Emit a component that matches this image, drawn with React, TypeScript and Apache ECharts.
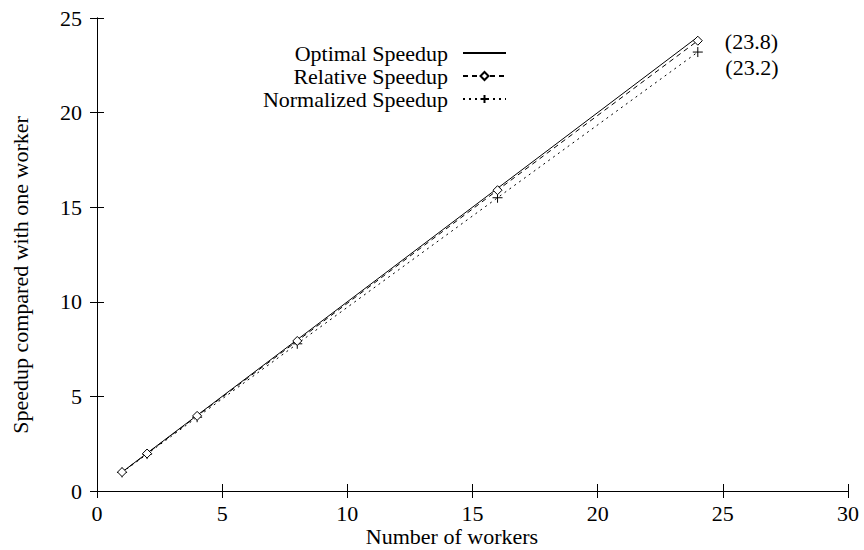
import React, { useEffect, useRef } from "react";
import * as echarts from "echarts";

const workers = [1, 2, 4, 8, 16, 24];
const optimal = [1, 2, 4, 8, 16, 24];
const relative = [1, 1.98, 3.97, 7.93, 15.9, 23.8];
const normalized = [0.98, 1.95, 3.9, 7.78, 15.5, 23.2];
const xTicks = [0, 5, 10, 15, 20, 25, 30];
const yTicks = [0, 5, 10, 15, 20, 25];
const seriesNames = ["Optimal Speedup", "Relative Speedup", "Normalized Speedup"];
const xTitle = "Number of workers";
const yTitle = "Speedup compared with one worker";

const FONT = "Liberation Serif";
const FS = 22;

function pairs(ys: number[], labelLast: boolean, offsetY: number) {
  return workers.map((x, i) => {
    const item: any = { value: [x, ys[i]] };
    if (labelLast && i === workers.length - 1) {
      item.label = {
        show: true,
        position: "right",
        distance: 22,
        offset: [0, offsetY],
        formatter: `(${ys[i]})`,
        color: "#000",
        fontFamily: FONT,
        fontSize: FS,
        lineHeight: 19,
      };
    }
    return item;
  });
}

export default function App() {
  const ref = useRef<HTMLDivElement>(null);
  useEffect(() => {
    if (!ref.current) return;
    const chart = echarts.init(ref.current, undefined, { renderer: "svg" });
    const axisCommon = {
      type: "value",
      min: 0,
      interval: 5,
      axisLine: { show: true, lineStyle: { color: "#000", width: 1 } },
      axisTick: { show: true, inside: true, length: 7, lineStyle: { color: "#000", width: 1 } },
      splitLine: { show: false },
    };
    const labelStyle = { color: "#000", fontFamily: FONT, fontSize: FS };
    chart.setOption({
      animation: false,
      backgroundColor: "#fff",
      textStyle: { fontFamily: FONT },
      grid: { left: 97, right: 16, top: 18, bottom: 59 },
      legend: {
        orient: "vertical",
        align: "right",
        right: 352,
        top: 37,
        itemWidth: 43,
        itemHeight: 10,
        itemGap: 1,
        data: [
          { name: seriesNames[0], itemStyle: { opacity: 0 } },
          { name: seriesNames[1] },
          { name: seriesNames[2] },
        ],
        textStyle: { ...labelStyle, lineHeight: 20, padding: [0, 10, 0, 0] },
        inactiveColor: "#000",
      },
      xAxis: [
        {
          ...axisCommon,
          max: xTicks[xTicks.length - 1],
          position: "bottom",
          axisLabel: { ...labelStyle, margin: 11, formatter: (v: number) => (xTicks.includes(v) ? String(v) : "") },
        },
        {
          ...axisCommon,
          max: xTicks[xTicks.length - 1],
          position: "top",
          axisLabel: { show: false },
        },
      ],
      yAxis: [
        {
          ...axisCommon,
          max: yTicks[yTicks.length - 1],
          position: "left",
          axisLabel: { ...labelStyle, margin: 15, formatter: (v: number) => (yTicks.includes(v) ? String(v) : "") },
        },
        {
          ...axisCommon,
          max: yTicks[yTicks.length - 1],
          position: "right",
          axisLabel: { show: false },
        },
      ],
      graphic: [
        {
          type: "text",
          x: 452,
          y: 536,
          style: { text: xTitle, fill: "#000", fontFamily: FONT, fontSize: FS, textAlign: "center", textVerticalAlign: "middle" },
        },
        {
          type: "text",
          x: 20,
          y: 275,
          rotation: Math.PI / 2,
          style: { text: yTitle, fill: "#000", fontFamily: FONT, fontSize: FS, textAlign: "center", textVerticalAlign: "middle" },
        },
      ],
      series: [
        {
          name: seriesNames[0],
          type: "line",
          data: pairs(optimal, false, 0),
          symbol: "none",
          showSymbol: false,
          itemStyle: { color: "#000" },
          lineStyle: { color: "#000", width: 1, type: "solid" },
          z: 3,
        },
        {
          name: seriesNames[1],
          type: "line",
          data: pairs(relative, true, 1),
          symbol: "diamond",
          symbolSize: 9,
          itemStyle: { color: "#fff", borderColor: "#000", borderWidth: 1 },
          lineStyle: { color: "#000", width: 1, type: [5, 4] },
          z: 4,
        },
        {
          name: seriesNames[2],
          type: "line",
          data: pairs(normalized, true, 15),
          symbol: "path://M5 0 L5 10 M0 5 L10 5",
          symbolSize: 10,
          itemStyle: { color: "#000", borderColor: "#000", borderWidth: 1 },
          lineStyle: { color: "#000", width: 1, type: [2, 4] },
          z: 2,
        },
      ],
    });
    return () => chart.dispose();
  }, []);
  return <div ref={ref} style={{ position: "fixed", left: 0, top: 0, width: 864, height: 550 }} />;
}
